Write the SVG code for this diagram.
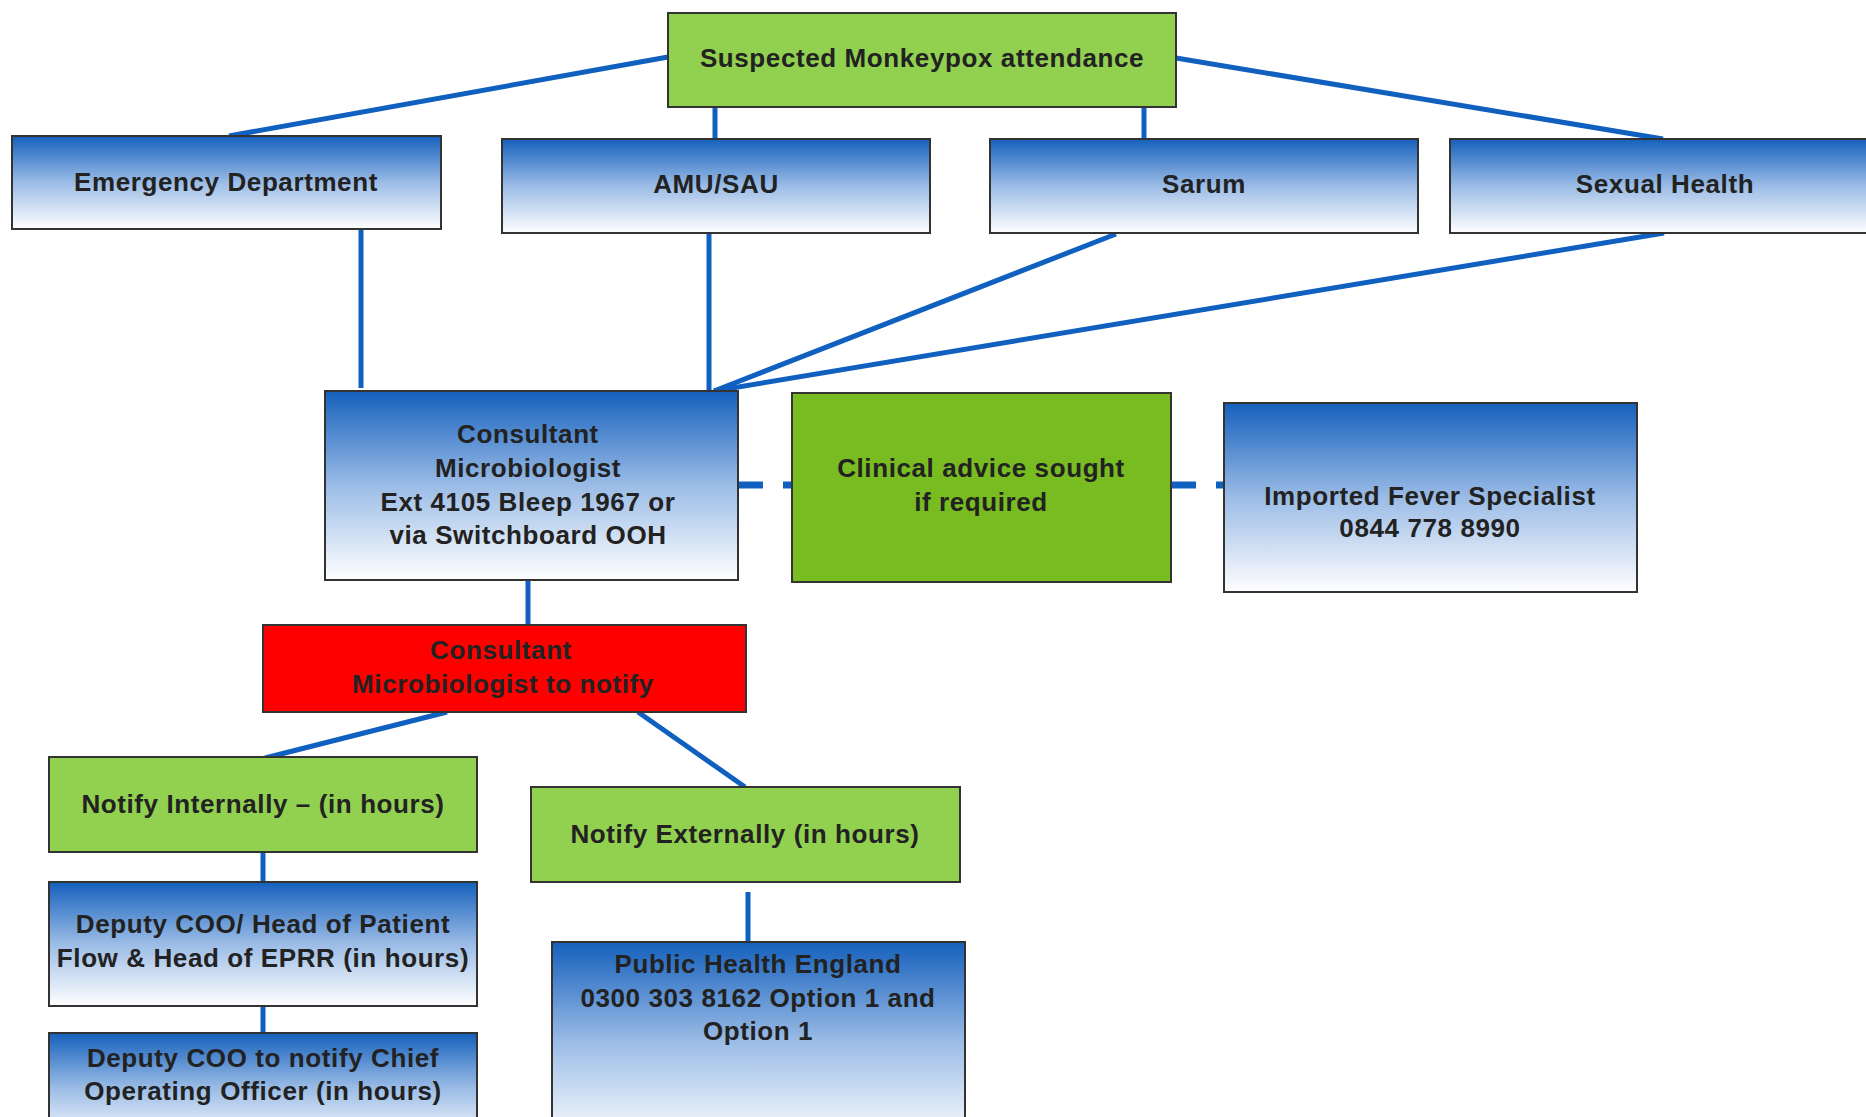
<svg xmlns="http://www.w3.org/2000/svg" width="1866" height="1117" viewBox="0 0 1866 1117">
<style>
.box{stroke:#333;stroke-width:2}
.blue{fill:url(#bg)}
.green{fill:#92D050}
.dgreen{fill:#78BC21}
.red{fill:#FF0000}
.c{stroke:#1060C0;stroke-width:5;fill:none}
.d{stroke:#1060C0;stroke-width:7;fill:none;stroke-dasharray:25 20}
text{font-family:"Liberation Sans",Arial,sans-serif;font-weight:bold;font-size:26px;fill:#222;text-anchor:middle;letter-spacing:0.6px}
</style>
<defs>
<linearGradient id="bg" x1="0" y1="0" x2="0" y2="1">
<stop offset="0" stop-color="#1560BC"/>
<stop offset="0.5" stop-color="#9BBCE6"/>
<stop offset="1" stop-color="#FFFFFF"/>
</linearGradient>
</defs>
<rect width="1866" height="1117" fill="#fff"/>
<g id="connectors">
<line class="c" x1="668" y1="57" x2="229" y2="136"/>
<line class="c" x1="715" y1="107" x2="715" y2="139"/>
<line class="c" x1="1144" y1="107" x2="1144" y2="139"/>
<line class="c" x1="1176" y1="58" x2="1663" y2="139"/>
<line class="c" x1="361" y1="229" x2="361" y2="388"/>
<line class="c" x1="709" y1="233" x2="709" y2="391"/>
<line class="c" x1="1116" y1="234" x2="714" y2="391"/>
<line class="c" x1="1664" y1="233" x2="714" y2="391"/>
<line class="d" x1="738" y1="485" x2="792" y2="485"/>
<line class="d" x1="1171" y1="485" x2="1224" y2="485"/>
<line class="c" x1="528" y1="580" x2="528" y2="625"/>
<line class="c" x1="447" y1="712" x2="265" y2="758"/>
<line class="c" x1="638" y1="712" x2="745" y2="787"/>
<line class="c" x1="263" y1="852" x2="263" y2="882"/>
<line class="c" x1="263" y1="1006" x2="263" y2="1033"/>
<line class="c" x1="748" y1="892" x2="748" y2="942"/>
</g>
<g id="suspected">
<rect class="box green" x="668" y="13" width="508" height="94"/>
<text x="922" y="67">Suspected Monkeypox attendance</text>
</g>
<g id="ed">
<rect class="box blue" x="12" y="136" width="429" height="93"/>
<text x="226" y="191">Emergency Department</text>
</g>
<g id="amu">
<rect class="box blue" x="502" y="139" width="428" height="94"/>
<text x="716" y="193">AMU/SAU</text>
</g>
<g id="sarum">
<rect class="box blue" x="990" y="139" width="428" height="94"/>
<text x="1204" y="193">Sarum</text>
</g>
<g id="sexual">
<rect class="box blue" x="1450" y="139" width="430" height="94"/>
<text x="1665" y="193">Sexual Health</text>
</g>
<g id="consultant">
<rect class="box blue" x="325" y="391" width="413" height="189"/>
<text x="528" y="443">Consultant</text>
<text x="528" y="477">Microbiologist</text>
<text x="528" y="511">Ext 4105 Bleep 1967 or</text>
<text x="528" y="544">via Switchboard OOH</text>
</g>
<g id="clinical">
<rect class="box dgreen" x="792" y="393" width="379" height="189"/>
<text x="981" y="477">Clinical advice sought</text>
<text x="981" y="511">if required</text>
</g>
<g id="fever">
<rect class="box blue" x="1224" y="403" width="413" height="189"/>
<text x="1430" y="505">Imported Fever Specialist</text>
<text x="1430" y="537">0844 778 8990</text>
</g>
<g id="notify">
<rect class="box red" x="263" y="625" width="483" height="87"/>
<text x="501" y="659">Consultant</text>
<text x="503" y="693">Microbiologist to notify</text>
</g>
<g id="internal">
<rect class="box green" x="49" y="757" width="428" height="95"/>
<text x="263" y="813">Notify Internally – (in hours)</text>
</g>
<g id="external">
<rect class="box green" x="531" y="787" width="429" height="95"/>
<text x="745" y="843">Notify Externally (in hours)</text>
</g>
<g id="deputy">
<rect class="box blue" x="49" y="882" width="428" height="124"/>
<text x="263" y="933">Deputy COO/ Head of Patient</text>
<text x="263" y="967">Flow &amp; Head of EPRR (in hours)</text>
</g>
<g id="deputy2">
<rect class="box blue" x="49" y="1033" width="428" height="110"/>
<text x="263" y="1067">Deputy COO to notify Chief</text>
<text x="263" y="1100">Operating Officer (in hours)</text>
</g>
<g id="phe">
<rect class="box blue" x="552" y="942" width="413" height="200"/>
<text x="758" y="973">Public Health England</text>
<text x="758" y="1007">0300 303 8162 Option 1 and</text>
<text x="758" y="1040">Option 1</text>
</g>
</svg>
